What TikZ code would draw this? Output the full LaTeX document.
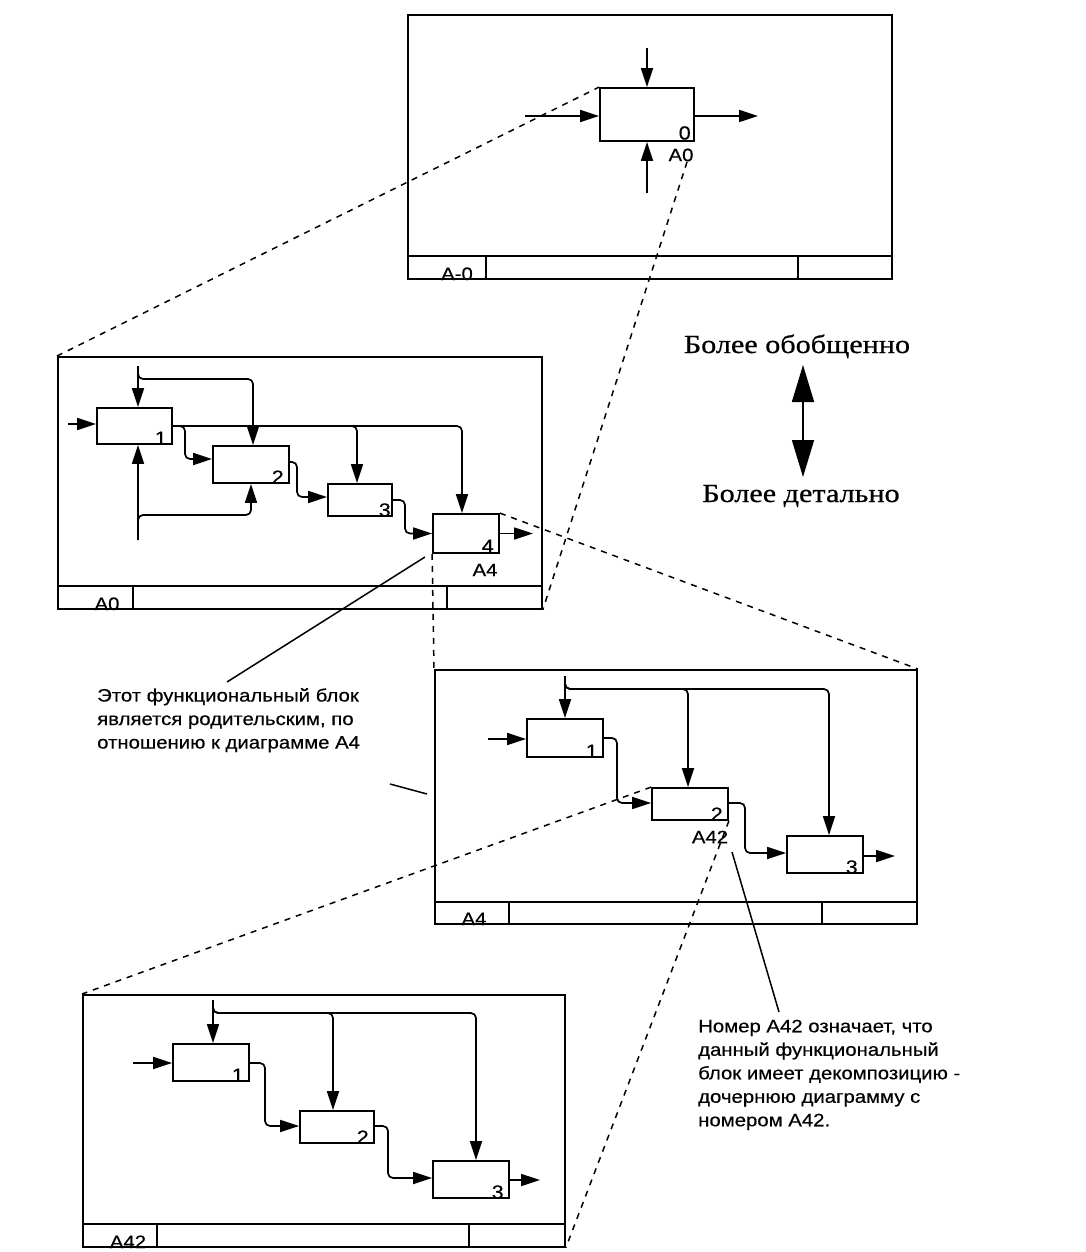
\documentclass[tikz,border=0pt]{standalone}
\usepackage{fontspec}
\usetikzlibrary{arrows.meta,calc}
\newfontfamily\lsans[FakeStretch=1.13,FakeBold=0.4]{Liberation Sans}
\newfontfamily\lserif[FakeStretch=1.16,FakeBold=0.6]{Liberation Serif}
\begin{document}
\begin{tikzpicture}[x=1pt,y=-1pt,
  framebox/.style={draw,line width=1.8pt,inner sep=0pt,anchor=north west},
  blk/.style={draw,line width=1.8pt,inner sep=0pt},
  conn/.style={line width=1.7pt,rounded corners=5pt},
  arr/.style={conn,-{Triangle[length=19pt,width=12pt]}},
  dsh/.style={line width=1.5pt,dash pattern=on 6pt off 6pt},
  foot/.style={line width=1.8pt},
  numlbl/.style={font=\lsans\fontsize{19pt}{19pt}\selectfont,inner sep=0pt,anchor=south east},
  lbl/.style={font=\lsans\fontsize{18pt}{18pt}\selectfont,inner sep=0pt},
  note/.style={font=\lsans\fontsize{18pt}{23.5pt}\selectfont,inner sep=0pt,anchor=north west,align=left},
  big/.style={font=\lserif\fontsize{26pt}{26pt}\selectfont,inner sep=0pt,anchor=base}
]
\fill[white] (0,0) rectangle (1086,1252);
\useasboundingbox (0,0) rectangle (1086,1252);

% ---------- Frame A-0 ----------
\node[framebox,minimum width=484pt,minimum height=264pt] (F0) at (407,14) {};
\draw[foot] (407,256) -- (891,256) (486,256) -- (486,278) (798,256) -- (798,278);
\node[lbl,anchor=base] (f0) at (457,280) {A-0};
\node[blk,minimum width=94pt,minimum height=53pt] (B0) at (647,114.5) {};
\node[numlbl] (n0) at ($(B0.south east)+(-4,-2)$) {0};
\node[lbl] (a0) at (681,155) {A0};
\coordinate (c0) at (647,48);
\coordinate (m0) at (647,193);
\coordinate (i0) at (525,116);
\coordinate (o0) at (758,116);
\draw[arr] (c0) -- (B0.north);
\draw[arr] (m0) -- (B0.south);
\draw[arr] (i0) -- (B0.west |- i0);
\draw[arr] (B0.east |- o0) -- (o0);

% ---------- Frame A0 ----------
\node[framebox,minimum width=484pt,minimum height=252pt] (F1) at (57,356) {};
\draw[foot] (57,586) -- (541,586) (133,586) -- (133,608) (447,586) -- (447,608);
\node[lbl,anchor=base] (f1) at (107,610) {A0};
\node[blk,minimum width=75pt,minimum height=36pt] (b11) at (134.5,426) {};
\node[blk,minimum width=76pt,minimum height=37pt] (b12) at (251,464.5) {};
\node[blk,minimum width=64pt,minimum height=32pt] (b13) at (360,500) {};
\node[blk,minimum width=66pt,minimum height=39pt] (b14) at (466,533.5) {};
\node[numlbl] (n11) at ($(b11.south east)+(-6,0)$) {1};
\node[numlbl] (n12) at ($(b12.south east)+(-6,0)$) {2};
\node[numlbl] (n13) at ($(b13.south east)+(-2,0)$) {3};
\node[numlbl] (n14) at ($(b14.south east)+(-6,-1)$) {4};
\node[lbl] (a4) at (485,570) {A4};
\coordinate (i1) at (68,424);
\coordinate (c1) at (138,366);
\coordinate (m1) at (138,540);
\coordinate (o1) at (533,533.5);
\draw[arr] (i1) -- ($(b11.west)+(0,-2)$);
\draw[arr] (c1) -- ($(b11.north)+(3.5,0)$);
\draw[arr] (c1) |- (253,379) -- ($(b12.north)+(2,0)$);
\draw[arr] (b11.east) -| ($(b14.north)+(-4,0)$);
\draw[arr] (b11.east) -| ($(b13.north)+(-3,0)$);
\draw[arr] (b11.east) -| (185,459) -- ($(b12.west)+(0,-5.5)$);
\draw[arr] ($(b12.east)+(0,-2.5)$) -| (297,497) -- ($(b13.west)+(0,-3)$);
\draw[arr] (b13.east) -| (405,533.5) -- (b14.west);
\draw[arr] (b14.east) -- (o1);
\draw[arr] (m1) -- ($(b11.south)+(3.5,0)$);
\draw[arr] (m1) |- (251,515) -- (b12.south);

% ---------- Frame A4 ----------
\node[framebox,minimum width=482pt,minimum height=254pt] (F2) at (434,669) {};
\draw[foot] (434,902) -- (916,902) (509,902) -- (509,923) (822,902) -- (822,923);
\node[lbl,anchor=base] (f2) at (474,925) {A4};
\node[blk,minimum width=76pt,minimum height=38pt] (b21) at (565,738) {};
\node[blk,minimum width=76pt,minimum height=32pt] (b22) at (690,804) {};
\node[blk,minimum width=76pt,minimum height=37pt] (b23) at (825,854.5) {};
\node[numlbl] (n21) at ($(b21.south east)+(-6,0)$) {1};
\node[numlbl] (n22) at ($(b22.south east)+(-6,0)$) {2};
\node[numlbl] (n23) at ($(b23.south east)+(-6,0)$) {3};
\node[lbl] (a42) at (710,837) {A42};
\coordinate (i2) at (488,739);
\coordinate (c2) at (565,676);
\coordinate (o2) at (895,856);
\draw[arr] (i2) -- (b21.west |- i2);
\draw[arr] (c2) -- (b21.north);
\draw[arr] (c2) |- (688,689) -- ($(b22.north)+(-2,0)$);
\draw[arr] (c2) |- (829,689) -- ($(b23.north)+(4,0)$);
\draw[arr] (b21.east) -| (617,803) -- ($(b22.west)+(0,-1)$);
\draw[arr] ($(b22.east)+(0,-1)$) -| (745,853) -- ($(b23.west)+(0,-1.5)$);
\draw[arr] ($(b23.east)+(0,1.5)$) -- (o2);

% ---------- Frame A42 ----------
\node[framebox,minimum width=482pt,minimum height=252pt] (F3) at (82,994) {};
\draw[foot] (82,1224) -- (564,1224) (157,1224) -- (157,1246) (469,1224) -- (469,1246);
\node[lbl,anchor=base] (f3) at (128,1248) {A42};
\node[blk,minimum width=76pt,minimum height=37pt] (b31) at (211,1062.5) {};
\node[blk,minimum width=74pt,minimum height=32pt] (b32) at (337,1127) {};
\node[blk,minimum width=76pt,minimum height=37pt] (b33) at (471,1179.5) {};
\node[numlbl] (n31) at ($(b31.south east)+(-6,0)$) {1};
\node[numlbl] (n32) at ($(b32.south east)+(-6,0)$) {2};
\node[numlbl] (n33) at ($(b33.south east)+(-6,0)$) {3};
\coordinate (i3) at (133,1063);
\coordinate (c3) at (213,1000);
\coordinate (o3) at (540,1180);
\draw[arr] (i3) -- (b31.west |- i3);
\draw[arr] (c3) -- ($(b31.north)+(2,0)$);
\draw[arr] (c3) |- (333,1013) -- ($(b32.north)+(-4,0)$);
\draw[arr] (c3) |- (476,1013) -- ($(b33.north)+(5,0)$);
\draw[arr] ($(b31.east)+(0,0.5)$) -| (265,1126) -- ($(b32.west)+(0,-1)$);
\draw[arr] ($(b32.east)+(0,-1)$) -| (388,1178) -- ($(b33.west)+(0,-1.5)$);
\draw[arr] ($(b33.east)+(0,0.5)$) -- (o3);

% ---------- dashed decomposition lines ----------
\coordinate (d0) at (687,162);
\draw[dsh] (F1.north west) -- (B0.north west);
\draw[dsh] (d0) -- (F1.south east);
\draw[dsh] (b14.south west) -- (F2.north west);
\draw[dsh] (b14.north east) -- (F2.north east);
\draw[dsh] (b22.north west) -- (F3.north west);
\draw[dsh] (b22.south east) -- (F3.south east);

% ---------- notes ----------
\node[note] (t1) at (97,688) {Этот функциональный блок\\является родительским, по\\отношению к диаграмме А4};
\node[note] (t2) at (698,1019.5) {Номер А42 означает, что\\данный функциональный\\блок имеет декомпозицию -\\дочернюю диаграмму с\\номером А42.};
\coordinate (p1) at (425,557);
\coordinate (p1e) at (227,682);
\draw[line width=1.5pt] (p1) -- (p1e);
\coordinate (p2) at (732,852);
\coordinate (p2e) at (779,1012);
\draw[line width=1.5pt] (p2) -- (p2e);
\coordinate (s1) at (390,784);
\coordinate (s2) at (427,794);
\draw[line width=1.5pt] (s1) -- (s2);

% ---------- level arrow ----------
\node[big] (up) at (797,353) {Более обобщенно};
\node[big] (dn) at (801,502) {Более детально};
\coordinate (ua) at (803,365);
\coordinate (da) at (803,477);
\draw[line width=1.6pt,{Triangle[length=37pt,width=22pt]}-{Triangle[length=37pt,width=22pt]}] (ua) -- (da);
\end{tikzpicture}
\end{document}
